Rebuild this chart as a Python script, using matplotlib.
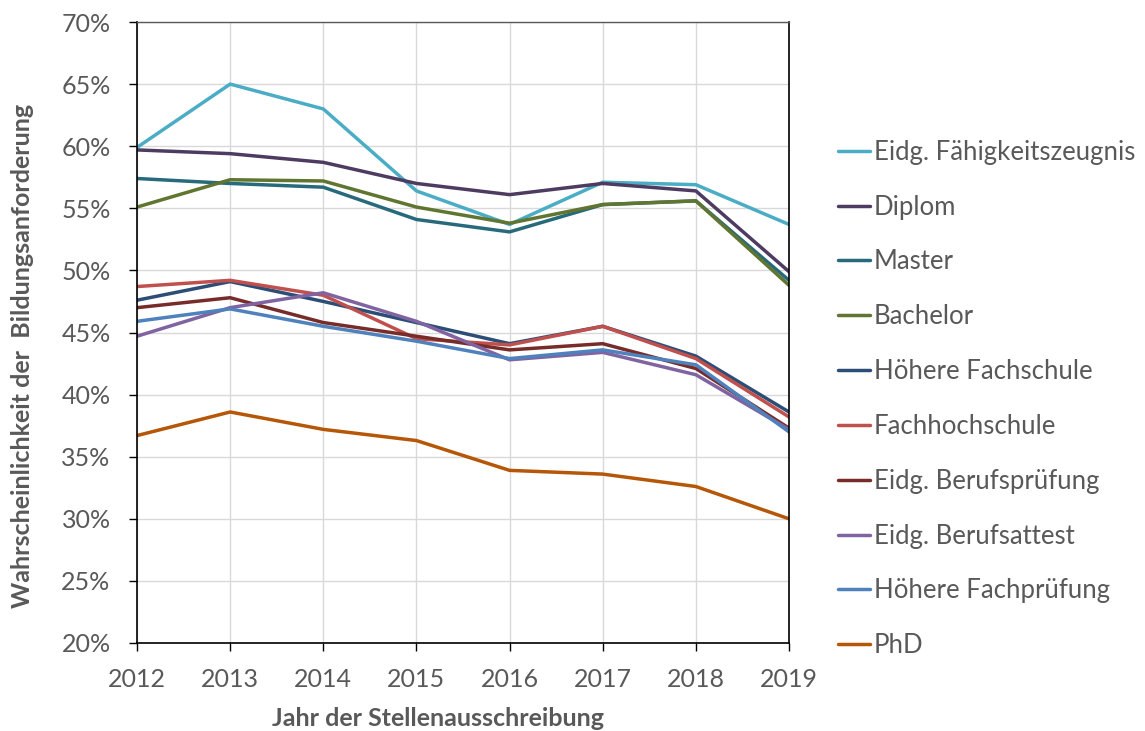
import matplotlib
matplotlib.use("Agg")
import matplotlib.pyplot as plt
from matplotlib.ticker import PercentFormatter

# ── data ─────────────────────────────────────────────────────────────────────
years = [2012, 2013, 2014, 2015, 2016, 2017, 2018, 2019]

faehigkeitszeugnis = [59.9, 65.0, 63.0, 56.4, 53.7, 57.1, 56.9, 53.7]
diplom             = [59.7, 59.4, 58.7, 57.0, 56.1, 57.0, 56.4, 49.9]
master             = [57.4, 57.0, 56.7, 54.1, 53.1, 55.3, 55.6, 49.2]
bachelor           = [55.1, 57.3, 57.2, 55.1, 53.8, 55.3, 55.6, 48.8]
hoehere_fachschule = [47.6, 49.1, 47.5, 45.8, 44.1, 45.5, 43.1, 38.6]
fachhochschule     = [48.7, 49.2, 48.0, 44.5, 44.0, 45.5, 42.9, 38.2]
berufspruefung     = [47.0, 47.8, 45.8, 44.7, 43.6, 44.1, 42.1, 37.3]
berufsattest       = [44.7, 47.0, 48.2, 45.9, 42.8, 43.4, 41.6, 37.2]
hoehere_fachpruef  = [45.9, 46.9, 45.5, 44.3, 42.9, 43.6, 42.4, 37.0]
phd                = [36.7, 38.6, 37.2, 36.3, 33.9, 33.6, 32.6, 30.0]

labels = ["Eidg. Fähigkeitszeugnis", "Diplom", "Master", "Bachelor",
          "Höhere Fachschule", "Fachhochschule", "Eidg. Berufsprüfung",
          "Eidg. Berufsattest", "Höhere Fachprüfung", "PhD"]
series = [faehigkeitszeugnis, diplom, master, bachelor, hoehere_fachschule,
          fachhochschule, berufspruefung, berufsattest, hoehere_fachpruef, phd]
colors = ["#4BACC6", "#4D3B62", "#276A7C", "#5F7530", "#2C4D75",
          "#C0504D", "#772C2A", "#8064A2", "#4F81BD", "#B65708"]

# ── style ────────────────────────────────────────────────────────────────────
TXT = "#595959"
plt.rcParams["font.family"] = ["Lato", "DejaVu Sans"]

fig = plt.figure(figsize=(11.45, 7.31), dpi=100)
ax = fig.add_axes([137 / 1145, 88 / 731, 652 / 1145, 621 / 731])

for vals, lab, col in zip(series, labels, colors):
    ax.plot(years, vals, color=col, linewidth=2.5, label=lab, solid_capstyle="round")

ax.set_xlim(2012, 2019)
ax.set_ylim(20, 70)
ax.set_xticks(years)
ax.set_yticks(range(20, 71, 5))
ax.yaxis.set_major_formatter(PercentFormatter(decimals=0))
ax.grid(True, color="#D9D9D9", linewidth=1.0)
ax.set_axisbelow(True)

for side in ["left", "bottom", "right"]:
    ax.spines[side].set_color("black")
    ax.spines[side].set_linewidth(1.2)
ax.spines["top"].set_color("#595959")
ax.spines["top"].set_linewidth(1.0)

ax.tick_params(axis="both", direction="out", length=6, width=1.0, color="black",
               labelcolor=TXT, labelsize=18)
ax.tick_params(axis="x", pad=12)
ax.tick_params(axis="y", pad=13)

ax.set_xlabel("Jahr der Stellenausschreibung", color=TXT, fontsize=18,
              fontweight="bold", va="center")
ax.xaxis.set_label_coords(0.461, -0.121)
ax.set_ylabel("Wahrscheinlichkeit der  Bildungsanforderung", color=TXT,
              fontsize=18, fontweight="bold", va="center")
ax.yaxis.set_label_coords(-0.176, 0.462)

leg = fig.legend(loc="center left", bbox_to_anchor=(838 / 1145, 1 - 399 / 731),
                 frameon=False, fontsize=18.5, handlelength=1.25,
                 handletextpad=0.15, labelspacing=1.16, borderpad=0,
                 borderaxespad=0)
for t in leg.get_texts():
    t.set_color(TXT)

fig.savefig("out.png", dpi=100, facecolor="white")
